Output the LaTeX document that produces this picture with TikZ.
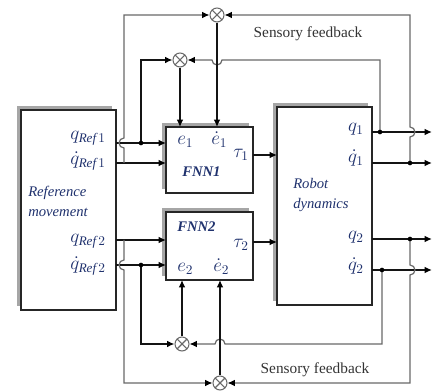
\documentclass[tikz,border=0pt]{standalone}
\usepackage{fontspec}
\setmainfont{Liberation Serif}
\usetikzlibrary{arrows.meta,shadows}
\definecolor{ink}{RGB}{32,50,110}
\definecolor{wire}{RGB}{20,20,20}
\definecolor{fb}{RGB}{105,105,105}

\begin{document}
\begin{tikzpicture}[x=0.75pt,y=-0.75pt,
  box/.style={draw=black!85, line width=1.1pt, fill=white, anchor=north west,
    inner sep=0pt, outer sep=0pt,
    general shadow={shadow xshift=-3pt, shadow yshift=3pt, fill=black!35}},
  lbl/.style={text=ink, inner sep=0pt, font=\fontsize{14}{16}\selectfont},
  blockname/.style={text=ink, inner sep=0pt, align=left,
    font=\fontsize{11}{15}\selectfont\itshape},
  tip/.style={-{Latex[length=5.5pt,width=5pt,color=black,fill=black]}},
  sig/.style={draw=wire, line width=1.2pt, tip},
  fbk/.style={draw=fb, line width=0.9pt},
  fbarrow/.style={fbk, tip},
  sum/.style={circle, draw=fb, line width=0.8pt, fill=white, minimum size=10.5pt,
    inner sep=0pt, path picture={\draw[fb, line width=0.8pt]
      (path picture bounding box.north west) -- (path picture bounding box.south east)
      (path picture bounding box.north east) -- (path picture bounding box.south west);}},
  dot/.style={circle, fill=black, inner sep=0pt, minimum size=3.5pt},
  sensor/.style={text=black!80, inner sep=0pt, font=\fontsize{11.5}{13}\selectfont},
]
\useasboundingbox (0,0) rectangle (433,391);

% blocks
\node[box, minimum width=71.25pt, minimum height=150pt]  (ref)   at (21,110)  {};
\node[box, minimum width=65.25pt, minimum height=49.5pt] (fnn1)  at (166,127) {};
\node[box, minimum width=65.25pt, minimum height=51pt]   (fnn2)  at (166,212) {};
\node[box, minimum width=71.25pt, minimum height=148.5pt] (robot) at (277,107) {};

% summing junctions
\node[sum] (sumA) at (217,15)  {};
\node[sum] (sumB) at (180,60)  {};
\node[sum] (sumC) at (182,344) {};
\node[sum] (sumD) at (220,383) {};

% text inside the reference block
\node[lbl, anchor=base east] (lqr1)  at (106,140) {$q_{\mathit{Ref}\,1}$};
\node[lbl, anchor=base east] (ldqr1) at (106,165) {$\dot q_{\mathit{Ref}\,1}$};
\node[blockname, anchor=north west] (lref) at (28,186) {Reference\\movement};
\node[lbl, anchor=base east] (lqr2)  at (106,243) {$q_{\mathit{Ref}\,2}$};
\node[lbl, anchor=base east] (ldqr2) at (106,270) {$\dot q_{\mathit{Ref}\,2}$};

% text inside FNN1 / FNN2
\node[lbl, anchor=base west] (le1)  at (177,145) {$e_1$};
\node[lbl, anchor=base west] (lde1) at (211,145) {$\dot e_1$};
\node[lbl, anchor=base west] (lt1)  at (233,158) {$\tau_1$};
\node[blockname, anchor=base west, font=\fontsize{11}{13}\selectfont\bfseries\itshape] (lf1) at (182,177) {FNN1};
\node[blockname, anchor=base west, font=\fontsize{11}{13}\selectfont\bfseries\itshape] (lf2) at (177,232) {FNN2};
\node[lbl, anchor=base west] (lt2)  at (233,248) {$\tau_2$};
\node[lbl, anchor=base west] (le2)  at (177,272) {$e_2$};
\node[lbl, anchor=base west] (lde2) at (213,272) {$\dot e_2$};

% text inside the robot block
\node[lbl, anchor=base east] (lq1)  at (364,132) {$q_1$};
\node[lbl, anchor=base east] (ldq1) at (364,163) {$\dot q_1$};
\node[blockname, anchor=north west] (lrob) at (293,178) {Robot\\dynamics};
\node[lbl, anchor=base east] (lq2)  at (364,240) {$q_2$};
\node[lbl, anchor=base east] (ldq2) at (364,271) {$\dot q_2$};

% feedback captions
\node[sensor, anchor=base] (sf1) at (308,38)  {Sensory feedback};
\node[sensor, anchor=base] (sf2) at (315,374) {Sensory feedback};

% branch points and line ends
\coordinate (bL1) at (141,143);
\coordinate (oL1) at (124,163);
\coordinate (bL2) at (141,265);
\coordinate (oL2) at (124,240);
\coordinate (bR1) at (380,132);
\coordinate (cR1) at (410,163);
\coordinate (cR2) at (410,239);
\coordinate (bR2) at (382,270);
\coordinate (out1) at (432,132);
\coordinate (out2) at (432,163);
\coordinate (out3) at (432,239);
\coordinate (out4) at (432,270);
\coordinate (tau1) at (253,155);
\coordinate (tau2) at (253,242);

% reference signals into the networks
\draw[sig] (ref.east |- bL1) -- (fnn1.west |- bL1);
\draw[sig] (ref.east |- oL1) -- (fnn1.west |- oL1);
\draw[sig] (ref.east |- oL2) -- (fnn2.west |- oL2);
\draw[sig] (ref.east |- bL2) -- (fnn2.west |- bL2);

% torques into the robot
\draw[sig] (tau1) -- (robot.west |- tau1);
\draw[sig] (tau2) -- (robot.west |- tau2);

% robot outputs
\draw[sig] (robot.east |- out1) -- (out1);
\draw[sig] (robot.east |- out2) -- (out2);
\draw[sig] (robot.east |- out3) -- (out3);
\draw[sig] (robot.east |- out4) -- (out4);

% loops of joint 1
\draw[sig] (bL1) |- (sumB.west);
\draw[fbarrow] (oL1) -- (124,148) arc[start angle=90, end angle=270, radius=5] |- (sumA.west);
\draw[fbarrow] (bR1) |- (222,60) arc[start angle=0, end angle=180, radius=5] -- (sumB.east);
\draw[fbarrow] (cR1) -- (410,137) arc[start angle=90, end angle=-90, radius=5] |- (sumA.east);
\draw[sig] (sumB.south) -- (sumB.south |- fnn1.north);
\draw[sig] (sumA.south) -- (sumA.south |- fnn1.north);

% loops of joint 2
\draw[sig] (bL2) |- (sumC.west);
\draw[fbarrow] (oL2) -- (124,260) arc[start angle=270, end angle=90, radius=5] |- (sumD.west);
\draw[fbarrow] (bR2) |- (225,344) arc[start angle=0, end angle=-180, radius=5] -- (sumC.east);
\draw[fbarrow] (cR2) -- (410,265) arc[start angle=270, end angle=450, radius=5] |- (sumD.east);
\draw[sig] (sumC.north) -- (sumC.north |- fnn2.south);
\draw[sig] (sumD.north) -- (sumD.north |- fnn2.south);

% junction dots
\node[dot] at (bL1) {};
\node[dot] at (bL2) {};
\node[dot] at (bR1) {};
\node[dot] at (cR1) {};
\node[dot] at (cR2) {};
\node[dot] at (bR2) {};
\end{tikzpicture}
\end{document}
